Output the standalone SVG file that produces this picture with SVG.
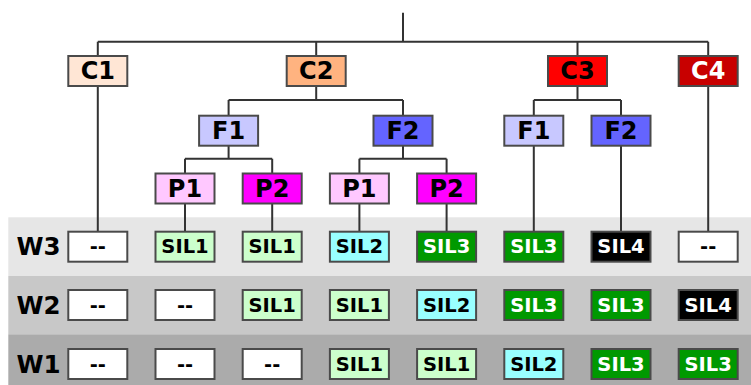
<svg xmlns="http://www.w3.org/2000/svg" width="751" height="385" viewBox="0 0 751 385">
<style>
.b{stroke:#4a4a4a;stroke-width:2}
.t{font-family:"DejaVu Sans",sans-serif;font-weight:bold;text-anchor:middle}
.n{font-size:24px}
.s{font-size:19.5px}
.w{font-size:24.5px;font-family:"DejaVu Sans",sans-serif;font-weight:bold}
.k{fill:#000}
.wt{fill:#fff}
.cn{fill:none;stroke:#333;stroke-width:2}
</style>
<g id="bands">
<rect x="8.3" y="217.3" width="742.7" height="58.7" fill="#e6e6e6"/>
<rect x="8.3" y="276" width="742.7" height="58.3" fill="#c8c8c8"/>
<rect x="8.3" y="334.3" width="742.7" height="50.7" fill="#ababab"/>
<text class="w" x="16.5" y="255">W3</text>
<text class="w" x="16.5" y="313.5">W2</text>
<text class="w" x="16.5" y="372.5">W1</text>
</g>
<g id="connectors" class="cn">
<path d="M403 12.7V41.7M97.8 41.7H708.2M97.8 41.7V231.7M316.2 41.7V56M577.5 41.7V56M708.2 41.7V231.7"/>
<path d="M316.2 86V100M228.6 100H403M228.6 100V115.7M403 100V115.7"/>
<path d="M577.5 86V100M533.8 100H621M533.8 100V231.7M621 100V231.7"/>
<path d="M228.6 145.3V158.7M185 158.7H272.2M185 158.7V231.7M272.2 158.7V231.7"/>
<path d="M403 145.3V158.7M359.4 158.7H446.6M359.4 158.7V231.7M446.6 158.7V231.7"/>
</g>
<g id="C1"><rect class="b" x="68.3" y="56" width="59" height="30" fill="#ffe6d5"/><text class="t n k" x="97.8" y="78.5">C1</text></g>
<g id="C2"><rect class="b" x="286.7" y="56" width="59" height="30" fill="#ffb380"/><text class="t n k" x="316.2" y="78.5">C2</text></g>
<g id="C3"><rect class="b" x="548" y="56" width="59" height="30" fill="#ff0000"/><text class="t n k" x="577.5" y="78.5">C3</text></g>
<g id="C4"><rect class="b" x="678.7" y="56" width="59" height="30" fill="#c80000"/><text class="t n wt" x="708.2" y="78.5">C4</text></g>
<g id="C2-F1"><rect class="b" x="199.1" y="115.7" width="59" height="30" fill="#c8c8ff"/><text class="t n k" x="228.6" y="138.5">F1</text></g>
<g id="C2-F2"><rect class="b" x="373.5" y="115.7" width="59" height="30" fill="#6464ff"/><text class="t n k" x="403" y="138.5">F2</text></g>
<g id="C3-F1"><rect class="b" x="504.3" y="115.7" width="59" height="30" fill="#c8c8ff"/><text class="t n k" x="533.8" y="138.5">F1</text></g>
<g id="C3-F2"><rect class="b" x="591.5" y="115.7" width="59" height="30" fill="#6464ff"/><text class="t n k" x="621" y="138.5">F2</text></g>
<g id="F1-P1"><rect class="b" x="155.5" y="173.5" width="59" height="30" fill="#ffc8ff"/><text class="t n k" x="185" y="196.5">P1</text></g>
<g id="F1-P2"><rect class="b" x="242.7" y="173.5" width="59" height="30" fill="#ff00ff"/><text class="t n k" x="272.2" y="196.5">P2</text></g>
<g id="F2-P1"><rect class="b" x="329.9" y="173.5" width="59" height="30" fill="#ffc8ff"/><text class="t n k" x="359.4" y="196.5">P1</text></g>
<g id="F2-P2"><rect class="b" x="417.1" y="173.5" width="59" height="30" fill="#ff00ff"/><text class="t n k" x="446.6" y="196.5">P2</text></g>
<g id="W3-row">
<rect class="b" x="68.3" y="231.7" width="59" height="30" fill="#fff"/><text class="t s k" x="97.8" y="253.3">--</text>
<rect class="b" x="155.5" y="231.7" width="59" height="30" fill="#ccffcc"/><text class="t s k" x="185" y="253.3">SIL1</text>
<rect class="b" x="242.7" y="231.7" width="59" height="30" fill="#ccffcc"/><text class="t s k" x="272.2" y="253.3">SIL1</text>
<rect class="b" x="329.9" y="231.7" width="59" height="30" fill="#99ffff"/><text class="t s k" x="359.4" y="253.3">SIL2</text>
<rect class="b" x="417.1" y="231.7" width="59" height="30" fill="#009900"/><text class="t s wt" x="446.6" y="253.3">SIL3</text>
<rect class="b" x="504.3" y="231.7" width="59" height="30" fill="#009900"/><text class="t s wt" x="533.8" y="253.3">SIL3</text>
<rect class="b" x="591.5" y="231.7" width="59" height="30" fill="#000"/><text class="t s wt" x="621" y="253.3">SIL4</text>
<rect class="b" x="678.7" y="231.7" width="59" height="30" fill="#fff"/><text class="t s k" x="708.2" y="253.3">--</text>
</g>
<g id="W2-row">
<rect class="b" x="68.3" y="290" width="59" height="30" fill="#fff"/><text class="t s k" x="97.8" y="311.6">--</text>
<rect class="b" x="155.5" y="290" width="59" height="30" fill="#fff"/><text class="t s k" x="185" y="311.6">--</text>
<rect class="b" x="242.7" y="290" width="59" height="30" fill="#ccffcc"/><text class="t s k" x="272.2" y="311.6">SIL1</text>
<rect class="b" x="329.9" y="290" width="59" height="30" fill="#ccffcc"/><text class="t s k" x="359.4" y="311.6">SIL1</text>
<rect class="b" x="417.1" y="290" width="59" height="30" fill="#99ffff"/><text class="t s k" x="446.6" y="311.6">SIL2</text>
<rect class="b" x="504.3" y="290" width="59" height="30" fill="#009900"/><text class="t s wt" x="533.8" y="311.6">SIL3</text>
<rect class="b" x="591.5" y="290" width="59" height="30" fill="#009900"/><text class="t s wt" x="621" y="311.6">SIL3</text>
<rect class="b" x="678.7" y="290" width="59" height="30" fill="#000"/><text class="t s wt" x="708.2" y="311.6">SIL4</text>
</g>
<g id="W1-row">
<rect class="b" x="68.3" y="349" width="59" height="30" fill="#fff"/><text class="t s k" x="97.8" y="370.6">--</text>
<rect class="b" x="155.5" y="349" width="59" height="30" fill="#fff"/><text class="t s k" x="185" y="370.6">--</text>
<rect class="b" x="242.7" y="349" width="59" height="30" fill="#fff"/><text class="t s k" x="272.2" y="370.6">--</text>
<rect class="b" x="329.9" y="349" width="59" height="30" fill="#ccffcc"/><text class="t s k" x="359.4" y="370.6">SIL1</text>
<rect class="b" x="417.1" y="349" width="59" height="30" fill="#ccffcc"/><text class="t s k" x="446.6" y="370.6">SIL1</text>
<rect class="b" x="504.3" y="349" width="59" height="30" fill="#99ffff"/><text class="t s k" x="533.8" y="370.6">SIL2</text>
<rect class="b" x="591.5" y="349" width="59" height="30" fill="#009900"/><text class="t s wt" x="621" y="370.6">SIL3</text>
<rect class="b" x="678.7" y="349" width="59" height="30" fill="#009900"/><text class="t s wt" x="708.2" y="370.6">SIL3</text>
</g>
</svg>
